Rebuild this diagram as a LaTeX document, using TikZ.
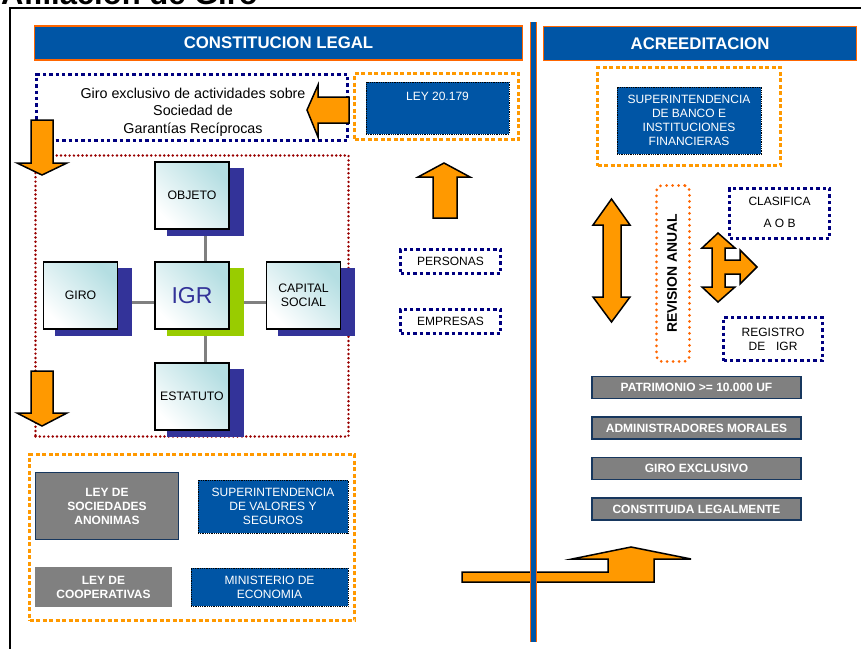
\documentclass[tikz,border=0pt]{standalone}
\usepackage{fontspec}
\setmainfont{Liberation Sans}
\usetikzlibrary{backgrounds}
\definecolor{hblue}{HTML}{0055A5}
\definecolor{navyc}{HTML}{000080}
\definecolor{orgc}{HTML}{FF9900}
\definecolor{revc}{HTML}{FF6600}
\definecolor{maroonc}{HTML}{990000}
\definecolor{shadc}{HTML}{333399}
\definecolor{greenc}{HTML}{99CC00}
\definecolor{grayc}{HTML}{808080}
\definecolor{barc}{HTML}{17375E}
\definecolor{cyanc}{HTML}{B4DEE2}
\definecolor{igrc}{HTML}{333399}
\tikzset{
  sz/.style 2 args={minimum width=#1pt, minimum height=#2pt, inner sep=0pt},
  navydot/.style={draw=navyc, line width=3.4pt, dash pattern=on 3.4pt off 3pt},
  orgdot/.style={draw=orgc, line width=3.5pt, dash pattern=on 4pt off 2.5pt},
  reddot/.style={draw=maroonc, line width=2.7pt, dash pattern=on 0pt off 4.3pt, line cap=round},
  revdot/.style={draw=revc, line width=3pt, dash pattern=on 0pt off 6pt, line cap=round, rounded corners=5pt},
  hdr/.style={fill=hblue, draw=revc, line width=1.2pt, text=white, font=\bfseries\fontsize{16.8}{20}\selectfont},
  bluebox/.style={fill=hblue, draw=black, line width=0.8pt, densely dotted, text=white, align=center, font=\fontsize{12}{14}\selectfont},
  graybox/.style={fill=grayc, text=white, align=center, font=\bfseries\fontsize{12}{14}\selectfont},
  bar/.style={graybox, draw=barc, line width=1.5pt},
  front/.style={draw=black, line width=1.5pt, top color=cyanc, bottom color=white, shading angle=-45, align=center, font=\fontsize{12.3}{14}\selectfont},
  shadowbox/.style={fill=shadc, draw=none},
  blockarrow/.style={fill=orgc, draw=black, line width=1.5pt, line join=miter},
  conn/.style={draw=grayc, line width=3pt},
  plain/.style={align=center, font=\fontsize{12}{14}\selectfont},
}
\begin{document}
\begin{tikzpicture}[x=1pt,y=-1pt]
\useasboundingbox (0,0) rectangle (861,648);
% title (cut at top)
\node[anchor=base west, inner sep=0, font=\bfseries\fontsize{31}{34}\selectfont] (title) at (1,4) {Afiliación de Giro};
% outer frame
\draw[black, line width=2pt] (10,652) -- (10,8) -- (870,8);
% headers
\node[hdr, sz={488}{34}] (hdrL) at (278.5,43) {CONSTITUCION LEGAL};
\node[hdr, sz={313}{34}] (hdrR) at (700,43.5) {ACREEDITACION};
% giro exclusivo
\node[navydot, sz={311}{66}] (giroex) at (192,107.5) {};
\node[align=center, inner sep=0, font=\fontsize{14.3}{17.5}\selectfont] (giroextxt) at (193,112) {Giro exclusivo de actividades sobre\\Sociedad de\\Garantías Recíprocas};
% LEY 20.179
\node[orgdot, sz={164}{66}] (leyframe) at (436.5,106.5) {};
\node[bluebox, sz={143}{52}] (ley) at (437.5,108) {};
\node[plain, text=white, inner sep=0] (leytxt) at (437.5,96) {LEY 20.179};
\draw[blockarrow] (349,97) -- (318,97) -- (318,85) -- (307,110) -- (318,137) -- (318,123) -- (349,123) -- cycle;
\draw[blockarrow] (433,218) -- (433,177) -- (418,177) -- (444,163) -- (470,177) -- (457,177) -- (457,218) -- cycle;
% red dotted frame
\node[reddot, sz={313}{281}] (redframe) at (192,296) {};
% down arrows
\draw[blockarrow] (31,120) -- (53,120) -- (53,163) -- (67,163) -- (42,175) -- (17,163) -- (31,163) -- cycle;
\draw[blockarrow] (31,371) -- (53,371) -- (53,413) -- (67,413) -- (42,426) -- (17,413) -- (31,413) -- cycle;
% IGR cluster
\node[shadowbox, sz={77}{68}] (objS) at (205,202) {};
\node[shadowbox, sz={77}{68}] (giroS) at (93,302) {};
\node[shadowbox, sz={77}{68}] (capS) at (316,302) {};
\node[shadowbox, sz={77}{68}] (estS) at (205,403) {};
\node[fill=greenc, sz={77}{68}] (igrS) at (205,302) {};
\begin{scope}[on background layer]
\draw[conn] (objS) -- (igrS);
\draw[conn] (igrS) -- (estS);
\draw[conn] (giroS) -- (igrS);
\draw[conn] (igrS) -- (capS);
\end{scope}
\node[front, sz={74}{67}] (objeto) at (192,195.5) {OBJETO};
\node[front, sz={74}{67}] (giro) at (80.5,295.5) {GIRO};
\node[front, sz={74}{67}] (capital) at (303.5,295.5) {CAPITAL\\SOCIAL};
\node[front, sz={74}{67}] (estatuto) at (192,396.5) {ESTATUTO};
\node[front, sz={74}{67}, text=igrc, font=\fontsize{23}{26}\selectfont] (igr) at (192,295.5) {IGR};
% personas / empresas
\node[navydot, sz={100}{24}, plain] (personas) at (450.5,261.5) {PERSONAS};
\node[navydot, sz={100}{24}, plain] (empresas) at (450.5,321.5) {EMPRESAS};
% bottom left group
\node[orgdot, sz={325}{166}] (botframe) at (192,537.5) {};
\node[graybox, draw=barc, line width=1pt, sz={143}{67}] (lsa) at (107,506) {LEY DE\\SOCIEDADES\\ANONIMAS};
\node[bluebox, sz={150}{53}] (svs) at (273,506.5) {SUPERINTENDENCIA\\DE VALORES Y\\SEGUROS};
\node[graybox, sz={137}{40}] (lcoop) at (103.5,587) {LEY DE\\COOPERATIVAS};
\node[bluebox, sz={157}{38}] (mine) at (269.5,587) {MINISTERIO DE\\ECONOMIA};
% right side
\node[orgdot, sz={183}{98}] (sbframe) at (689,116.5) {};
\node[bluebox, sz={144}{67}] (sbif) at (689,120.5) {SUPERINTENDENCIA\\DE BANCO E\\INSTITUCIONES\\FINANCIERAS};
\draw[blockarrow] (603,225) -- (593,225) -- (611.5,199) -- (630,225) -- (621,225) -- (621,297) -- (630,297) -- (611.5,322) -- (593,297) -- (603,297) -- cycle;
\node[revdot, sz={33}{176}] (revision) at (673,273.5) {};
\node[rotate=90, inner sep=0, font=\bfseries\fontsize{13.9}{16}\selectfont] (revtxt) at (672,273.5) {REVISION ANUAL};
\node[navydot, sz={100}{50}] (clasifica) at (779.5,213.5) {};
\node[plain, inner sep=0] (clas1) at (779.5,201) {CLASIFICA};
\node[plain, inner sep=0] (clas2) at (779.5,223) {A O B};
\draw[blockarrow] (718,233) -- (735,248) -- (725,248) -- (725,260) -- (740,260) -- (740,250) -- (757,267) -- (740,284) -- (740,274) -- (725,274) -- (725,287) -- (735,287) -- (718,302) -- (702,287) -- (712,287) -- (712,248) -- (702,248) -- cycle;
\node[navydot, sz={99}{43}, plain] (registro) at (773,339) {REGISTRO\\DE\hspace{0.9em}IGR};
% bars
\node[bar, sz={209}{22}] (b1) at (696.5,387.5) {PATRIMONIO >= 10.000 UF};
\node[bar, sz={209}{22}] (b2) at (696.5,428) {ADMINISTRADORES MORALES};
\node[bar, sz={209}{22}] (b3) at (696.5,468.5) {GIRO EXCLUSIVO};
\node[bar, sz={209}{22}] (b4) at (696.5,509) {CONSTITUIDA LEGALMENTE};
% bent arrow
\draw[blockarrow] (462,572) -- (608,572) -- (608,559) -- (572,559) -- (631,547) -- (691,559) -- (654,559) -- (654,582) -- (462,582) -- cycle;
% separator
\draw[revc, line width=7pt] (533.5,22) -- (533.5,642);
\draw[hblue, line width=4.5pt] (533.5,22) -- (533.5,642);
\end{tikzpicture}
\end{document}
